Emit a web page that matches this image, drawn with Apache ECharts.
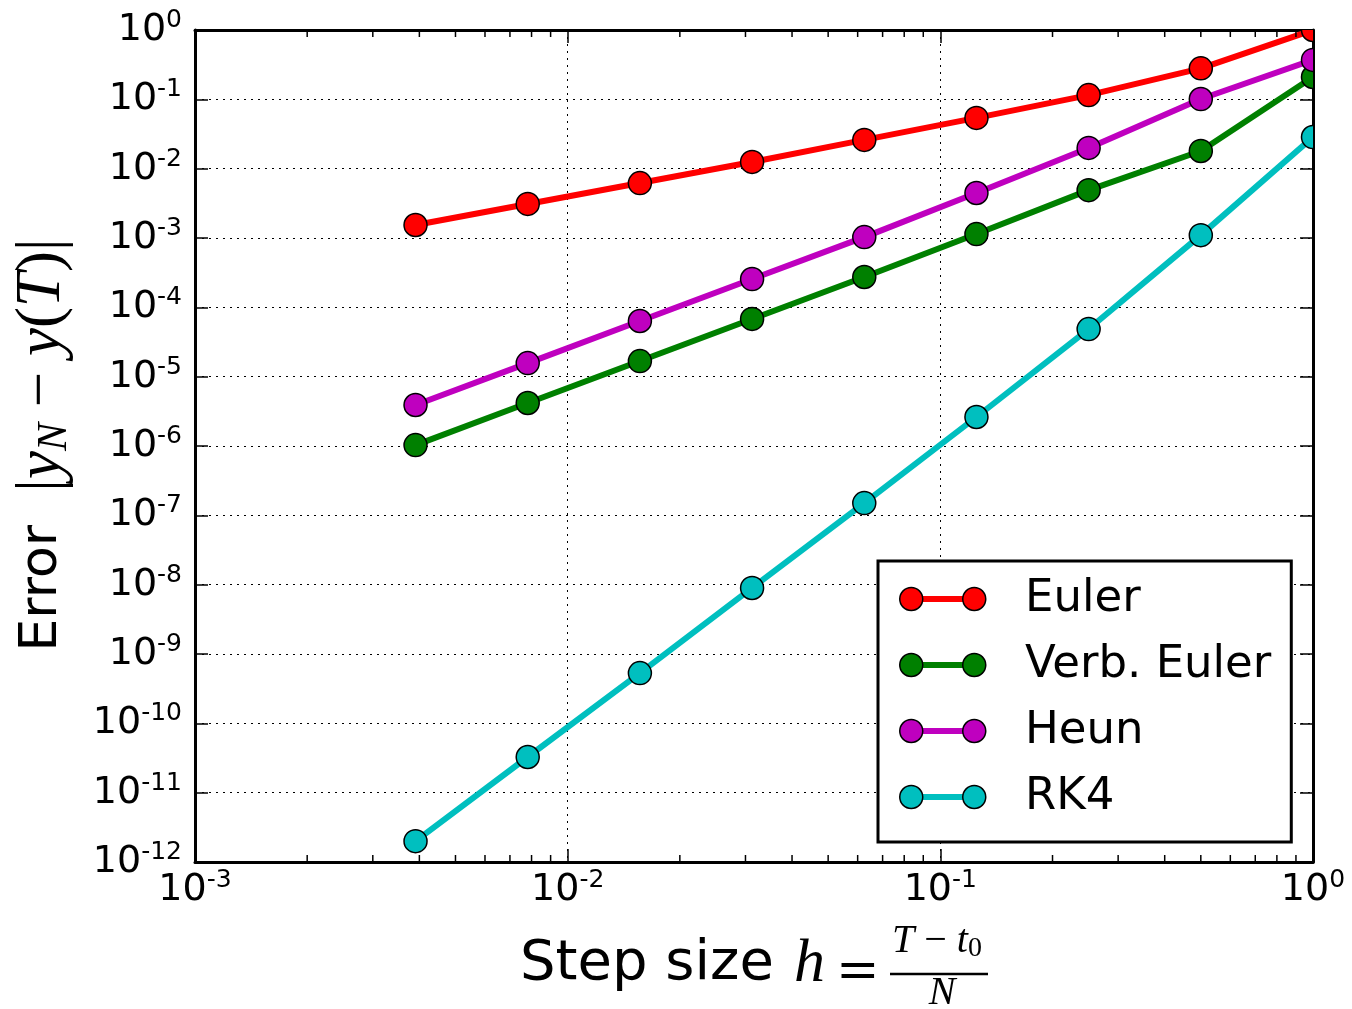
<!DOCTYPE html>
<html>
<head>
<meta charset="utf-8">
<title>Error vs step size</title>
<script src="https://cdn.jsdelivr.net/npm/echarts@6/dist/echarts.min.js"></script>
<style>
  html, body { margin: 0; padding: 0; background: #fff; }
  #main { width: 1352px; height: 1009px; }
</style>
</head>
<body>
<div id="main"></div>
<script>
// step sizes h = (T - t0) / N, N = 1, 2, 4, ... 256
const stepSizes = [1, 0.5, 0.25, 0.125, 0.0625, 0.03125, 0.015625, 0.0078125, 0.00390625];

// errors |y_N - y(T)|
const eulerErr = [1.0, 0.28, 0.115, 0.054, 0.026, 0.0125, 0.0062, 0.0031, 0.00154];
const verbEulerErr = [0.21, 0.018, 0.0049, 0.00114, 2.74e-4, 6.8e-5, 1.68e-5, 4.17e-6, 1.03e-6];
const heunErr = [0.37, 0.101, 0.0199, 0.00446, 0.00103, 2.56e-4, 6.35e-5, 1.57e-5, 3.9e-6];
const rk4Err = [0.0286, 0.0011, 4.86e-5, 2.62e-6, 1.5e-7, 8.96e-9, 5.3e-10, 3.27e-11, 2.0e-12];

const seriesNames = ['Euler', 'Verb. Euler', 'Heun', 'RK4'];
const seriesColors = ['#ff0000', '#008000', '#bf00bf', '#00bfbf'];

// log minor ticks of the x axis
const xMinorTicks = [
  0.002, 0.003, 0.004, 0.005, 0.006, 0.007, 0.008, 0.009,
  0.02, 0.03, 0.04, 0.05, 0.06, 0.07, 0.08, 0.09,
  0.2, 0.3, 0.4, 0.5, 0.6, 0.7, 0.8, 0.9
];

const xMin = 0.001, xMax = 1;
const yMin = 1e-12, yMax = 1;

const errorSets = [eulerErr, verbEulerErr, heunErr, rk4Err];

function makeSeries (idx) {
  const errs = errorSets[idx];
  const color = seriesColors[idx];
  return {
    name: seriesNames[idx],
    type: 'custom',
    clip: true,
    encode: { x: 0, y: 1 },
    itemStyle: { color: color },
    data: stepSizes.map((h, k) => [h, errs[k]]),
    renderItem: function (params, api) {
      const children = [];
      if (params.dataIndex === 0) {
        const pts = stepSizes.map((h, k) => api.coord([h, errs[k]]));
        children.push({
          type: 'polyline',
          shape: { points: pts },
          style: { stroke: color, lineWidth: 6, fill: null, lineJoin: 'round' },
          z2: idx * 10
        });
      }
      const p = api.coord([api.value(0), api.value(1)]);
      children.push({
        type: 'circle',
        shape: { cx: p[0], cy: p[1], r: 11.5 },
        style: { fill: color, stroke: '#000', lineWidth: 1.5 },
        z2: idx * 10 + 5
      });
      return { type: 'group', children: children };
    }
  };
}

const minorTickSeries = {
  name: 'minor',
  type: 'custom',
  silent: true,
  encode: { x: 0, y: 1 },
  data: xMinorTicks.map(v => [v, yMax]),
  renderItem: function (params, api) {
    const b = api.coord([api.value(0), yMin]);
    const t = api.coord([api.value(0), yMax]);
    const st = { stroke: '#000', lineWidth: 1.5 };
    return {
      type: 'group',
      children: [
        { type: 'line', shape: { x1: b[0], y1: b[1], x2: b[0], y2: b[1] - 7 }, style: st },
        { type: 'line', shape: { x1: t[0], y1: t[1], x2: t[0], y2: t[1] + 7 }, style: st }
      ]
    };
  }
};

const labelRich = {
  b: { fontFamily: 'DejaVu Sans', fontSize: 38, lineHeight: 44, color: '#000' },
  s: { fontFamily: 'DejaVu Sans', fontSize: 25, lineHeight: 25, color: '#000', verticalAlign: 'top' }
};
function powLabel (v) {
  return '{b|10}{s|' + Math.round(Math.log10(v)) + '}';
}

const axisLine = { show: true, onZero: false, lineStyle: { color: '#000', width: 3 } };
const axisTick = { show: true, inside: true, length: 13, lineStyle: { color: '#000', width: 1.5 } };
const gridLine = { show: true, lineStyle: { color: '#000', width: 1, type: [2, 5] } };

const chart = echarts.init(document.getElementById('main'));
chart.setOption({
  backgroundColor: '#fff',
  animation: false,
  grid: { left: 195, right: 39, top: 30, bottom: 147 },
  xAxis: [{
    type: 'log', logBase: 10, min: xMin, max: xMax, interval: 1,
    position: 'bottom',
    axisLine: axisLine, axisTick: axisTick,
    axisLabel: { margin: 6, formatter: powLabel, rich: labelRich },
    splitLine: gridLine
  }, {
    type: 'log', logBase: 10, min: xMin, max: xMax, interval: 1,
    position: 'top',
    axisLine: axisLine, axisTick: axisTick,
    axisLabel: { show: false },
    splitLine: { show: false }
  }],
  yAxis: [{
    type: 'log', logBase: 10, min: yMin, max: yMax, interval: 1,
    position: 'left',
    axisLine: axisLine, axisTick: axisTick,
    axisLabel: { margin: 13, formatter: powLabel, rich: labelRich },
    splitLine: gridLine
  }, {
    type: 'log', logBase: 10, min: yMin, max: yMax, interval: 1,
    position: 'right',
    axisLine: axisLine, axisTick: axisTick,
    axisLabel: { show: false },
    splitLine: { show: false }
  }],
  legend: [{
    // box, text and the connecting line of each entry
    orient: 'vertical', left: 878, top: 561,
    padding: [15, 20, 22, 32],
    backgroundColor: '#fff', borderColor: '#000', borderWidth: 3, borderRadius: 0,
    icon: 'rect', itemWidth: 63, itemHeight: 6, itemGap: 20,
    itemStyle: { borderWidth: 0 },
    textStyle: { fontFamily: 'DejaVu Sans', fontSize: 45, lineHeight: 46, color: '#000', padding: [0, 0, 0, 47] },
    data: seriesNames
  }, {
    // the two markers of each entry
    orient: 'vertical', left: 899, top: 561,
    padding: [15, 0, 0, 0],
    icon: 'path://M0,11.5a11.5,11.5 0 1,0 23,0a11.5,11.5 0 1,0 -23,0M63,11.5a11.5,11.5 0 1,0 23,0a11.5,11.5 0 1,0 -23,0',
    itemWidth: 86, itemHeight: 23, itemGap: 20,
    itemStyle: { borderColor: '#000', borderWidth: 1.5 },
    textStyle: { fontFamily: 'DejaVu Sans', fontSize: 45, lineHeight: 46 },
    formatter: function () { return ' '; },
    data: seriesNames
  }],
  graphic: [
    { type: 'text', x: 520, y: 964, style: { text: 'Step size', fontFamily: 'DejaVu Sans', fontSize: 56, fill: '#000', align: 'left', verticalAlign: 'middle' } },
    { type: 'text', x: 794, y: 965, style: { text: 'h', fontFamily: 'Liberation Serif', fontStyle: 'italic', fontSize: 62, fill: '#000', align: 'left', verticalAlign: 'middle' } },
    { type: 'text', x: 836, y: 973, style: { text: '=', fontFamily: 'DejaVu Serif', fontSize: 52, fill: '#000', align: 'left', verticalAlign: 'middle' } },
    { type: 'line', shape: { x1: 890, y1: 974, x2: 988, y2: 974 }, style: { stroke: '#000', lineWidth: 2.5 } },
    {
      type: 'text', x: 937, y: 941,
      style: {
        text: '{i|T}{r| \u2212 }{i|t}{sub|0}', align: 'center', verticalAlign: 'middle', fill: '#000',
        rich: {
          i: { fontFamily: 'Liberation Serif', fontStyle: 'italic', fontSize: 40, lineHeight: 44 },
          r: { fontFamily: 'Liberation Serif', fontSize: 40, lineHeight: 44 },
          sub: { fontFamily: 'Liberation Serif', fontSize: 28, lineHeight: 28, verticalAlign: 'bottom' }
        }
      }
    },
    { type: 'text', x: 942, y: 993, style: { text: 'N', fontFamily: 'Liberation Serif', fontStyle: 'italic', fontSize: 40, fill: '#000', align: 'center', verticalAlign: 'middle' } },
    {
      type: 'text', x: 42, y: 445, rotation: Math.PI / 2,
      style: {
        text: '{s|Error  }{r||}{i|y}{sub|N}{r| \u2212 }{i|y}{r|(}{i|T}{r|)|}',
        align: 'center', verticalAlign: 'middle', fill: '#000',
        rich: {
          s: { fontFamily: 'DejaVu Sans', fontSize: 52, lineHeight: 68 },
          r: { fontFamily: 'Liberation Serif', fontSize: 63, lineHeight: 68 },
          i: { fontFamily: 'Liberation Serif', fontStyle: 'italic', fontSize: 63, lineHeight: 68 },
          sub: { fontFamily: 'Liberation Serif', fontStyle: 'italic', fontSize: 42, lineHeight: 42, verticalAlign: 'bottom' }
        }
      }
    }
  ],
  series: [makeSeries(0), makeSeries(1), makeSeries(2), makeSeries(3), minorTickSeries]
});
</script>
</body>
</html>
